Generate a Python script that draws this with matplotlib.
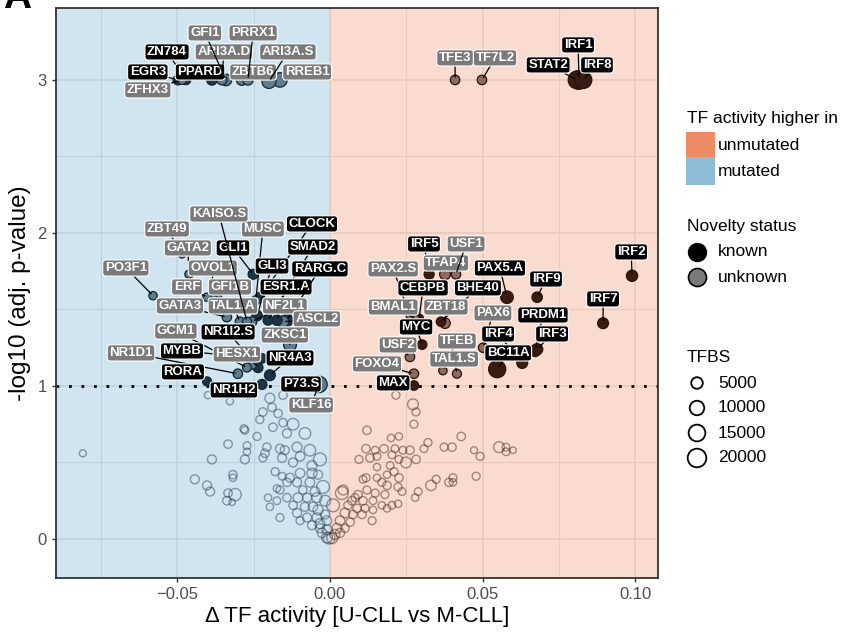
import numpy as np
import matplotlib
matplotlib.use("Agg")
import matplotlib.pyplot as plt
from matplotlib.patches import Rectangle

plt.rcParams['font.family'] = ['Liberation Sans', 'DejaVu Sans']

# significant TFs: name, delta activity, -log10 adj p, TFBS count, known
sig_names = ['EGR3', 'ZN784', 'ZFHX3', 'PPARD', 'ARI3A.D', 'GFI1', 'ZBTB6', 'PRRX1', 'ARI3A.S', 'RREB1',
             'TFE3', 'TF7L2', 'IRF1', 'STAT2', 'IRF8',
             'ZBT49', 'GATA2', 'PO3F1', 'OVOL1', 'ERF', 'GFI1B', 'GATA3', 'GLI1', 'CLOCK', 'MUSC',
             'GLI3', 'SMAD2', 'ESR1.A', 'RARG.C', 'TAL1.A', 'NF2L1', 'ASCL2', 'ZKSC1', 'KAISO.S',
             'GCM1', 'NR1I2.S', 'MYBB', 'HESX1', 'NR4A3', 'NR1D1', 'RORA', 'NR1H2', 'P73.S', 'KLF16',
             'IRF5', 'TFAP4', 'USF1', 'IRF2', 'PAX5.A', 'IRF9', 'IRF7', 'PAX2.S', 'CEBPB', 'BMAL1',
             'BHE40', 'ZBT18', 'MYC', 'TFEB', 'PAX6', 'PRDM1', 'IRF3', 'IRF4', 'BC11A', 'USF2',
             'TAL1.S', 'FOXO4', 'MAX']
sig_dx = [-0.0498, -0.0472, -0.0485, -0.0387, -0.0354, -0.0341, -0.0289, -0.0269, -0.0200, -0.0164,
          0.0410, 0.0498, 0.0816, 0.0810, 0.0830,
          -0.0485, -0.0462, -0.0580, -0.0387, -0.0403, -0.0370, -0.0338, -0.0252, -0.0230, -0.0243,
          -0.0239, -0.0203, -0.0174, -0.0141, -0.0295, -0.0256, -0.0154, -0.0131, -0.0272,
          -0.0272, -0.0236, -0.0223, -0.0256, -0.0197, -0.0302, -0.0403, -0.0223, -0.0066, -0.0036,
          0.0325, 0.0377, 0.0413, 0.0990, 0.0580, 0.0679, 0.0895, 0.0262, 0.0292, 0.0279,
          0.0364, 0.0377, 0.0302, 0.0370, 0.0502, 0.0672, 0.0679, 0.0630, 0.0548, 0.0262,
          0.0416, 0.0275, 0.0275]
sig_p = [3.0, 3.0, 3.0, 3.0, 3.0, 3.0, 3.0, 3.0, 2.99, 3.0,
         3.0, 3.0, 3.0, 3.0, 3.0,
         1.86, 1.73, 1.59, 1.58, 1.58, 1.58, 1.45, 1.73, 1.58, 1.56,
         1.46, 1.43, 1.43, 1.43, 1.42, 1.42, 1.42, 1.27, 1.42,
         1.12, 1.12, 1.18, 1.14, 1.07, 1.08, 1.03, 1.01, 1.01, 1.01,
         1.73, 1.73, 1.73, 1.72, 1.58, 1.58, 1.41, 1.46, 1.44, 1.44,
         1.42, 1.41, 1.27, 1.10, 1.25, 1.23, 1.24, 1.15, 1.11, 1.19,
         1.08, 1.08, 1.003]
sig_tfbs = [3000, 2500, 2000, 3500, 3000, 5000, 4000, 3500, 9000, 10000,
            2500, 2500, 20000, 18000, 16000,
            800, 1500, 1500, 2000, 1500, 2000, 2500, 3000, 2500, 2000,
            3500, 3000, 3500, 6000, 2500, 3000, 5000, 7000, 2000,
            2000, 3000, 2500, 2500, 4000, 2500, 2000, 3000, 4000, 14000,
            3000, 4000, 2500, 4500, 6500, 3500, 4000, 1000, 2000, 1500,
            2500, 3500, 2500, 1500, 2500, 5000, 4500, 4000, 16000, 2500,
            2000, 2500, 2500]
sig_known = [1, 1, 0, 1, 0, 0, 0, 0, 0, 0,
             0, 0, 1, 1, 1,
             0, 0, 0, 0, 0, 0, 0, 1, 1, 0,
             1, 1, 1, 1, 0, 0, 0, 0, 0,
             0, 1, 1, 0, 1, 0, 1, 1, 1, 0,
             1, 0, 0, 1, 1, 1, 1, 0, 1, 0,
             1, 0, 1, 0, 0, 1, 1, 1, 1, 0,
             0, 0, 1]

# non-significant TFs
ns_dx = [-0.0400, -0.0328, -0.0269, -0.0197, -0.0154, -0.0190, -0.0220, -0.0170, -0.0230, -0.0154,
         -0.0121, -0.0187, -0.0279, -0.0239, -0.0141, -0.0082, -0.0334, -0.0272, -0.0207, -0.0164,
         -0.0108, -0.0066, -0.0272, -0.0213, -0.0148, -0.0387, -0.0279, -0.0220, -0.0157, -0.0098,
         -0.0033, -0.0121, -0.0059, -0.0180, -0.0157, -0.0131, -0.0098, -0.0059, -0.0318, -0.0318,
         -0.0443, -0.0403, -0.0393, -0.0141, -0.0108, -0.0066, -0.0174, -0.0164, -0.0334, -0.0311,
         -0.0338, -0.0321, -0.0141, -0.0105, -0.0075, -0.0043, -0.0203, -0.0174, -0.0197, -0.0121,
         -0.0082, -0.0056, -0.0164, -0.0108, -0.0075, -0.0043, -0.0033, -0.0059, -0.0010, -0.0026,
         -0.0010, -0.0023, -0.0039, -0.0810, -0.0282, -0.0016, -0.0039, -0.0016, -0.0049, -0.0089,
         -0.0010, -0.0033, -0.0003, -0.0098,
         0.0216, 0.0272, 0.0282, 0.0275, 0.0121, 0.0226, 0.0200, 0.0321, 0.0430, 0.0308,
         0.0374, 0.0400, 0.0472, 0.0492, 0.0554, 0.0577, 0.0577, 0.0600, 0.0118, 0.0148,
         0.0177, 0.0213, 0.0239, 0.0262, 0.0203, 0.0226, 0.0249, 0.0282, 0.0095, 0.0131,
         0.0154, 0.0154, 0.0197, 0.0210, 0.0187, 0.0226, 0.0154, 0.0118, 0.0170, 0.0187,
         0.0223, 0.0236, 0.0479, 0.0403, 0.0403, 0.0390, 0.0348, 0.0331, 0.0289, 0.0279,
         0.0108, 0.0039, 0.0092, 0.0121, 0.0148, 0.0180, 0.0072, 0.0108, 0.0141, 0.0170,
         0.0203, 0.0223, 0.0187, 0.0089, 0.0115, 0.0141, 0.0049, 0.0075, 0.0105, 0.0138,
         0.0033, 0.0066, 0.0023, 0.0049, 0.0016, 0.0033, 0.0010, 0.0043, 0.0007, 0.0059,
         0.0082]
ns_p = [0.94, 0.90, 0.94, 0.92, 0.94, 0.86, 0.83, 0.82, 0.78, 0.76,
        0.75, 0.73, 0.71, 0.67, 0.69, 0.69, 0.62, 0.61, 0.60, 0.59,
        0.60, 0.58, 0.57, 0.56, 0.58, 0.52, 0.52, 0.53, 0.53, 0.54,
        0.52, 0.50, 0.48, 0.44, 0.41, 0.40, 0.43, 0.43, 0.42, 0.40,
        0.39, 0.35, 0.31, 0.37, 0.37, 0.37, 0.33, 0.32, 0.30, 0.29,
        0.25, 0.24, 0.27, 0.27, 0.27, 0.27, 0.27, 0.25, 0.21, 0.22,
        0.21, 0.21, 0.14, 0.17, 0.14, 0.14, 0.10, 0.09, 0.06, 0.04,
        0.01, 0.34, 0.42, 0.56, 0.72, 0.25, 0.19, 0.16, 0.31, 0.32,
        0.12, 0.07, 0.005, 0.12,
        0.94, 0.88, 0.83, 0.75, 0.71, 0.67, 0.66, 0.63, 0.67, 0.59,
        0.60, 0.60, 0.58, 0.54, 0.60, 0.60, 0.57, 0.58, 0.59, 0.58,
        0.59, 0.59, 0.58, 0.58, 0.55, 0.52, 0.50, 0.52, 0.52, 0.53,
        0.54, 0.47, 0.48, 0.44, 0.42, 0.40, 0.40, 0.40, 0.37, 0.35,
        0.34, 0.31, 0.41, 0.40, 0.37, 0.37, 0.39, 0.35, 0.31, 0.27,
        0.39, 0.30, 0.29, 0.32, 0.30, 0.29, 0.25, 0.25, 0.25, 0.22,
        0.22, 0.23, 0.20, 0.20, 0.20, 0.19, 0.17, 0.16, 0.16, 0.12,
        0.12, 0.11, 0.07, 0.07, 0.03, 0.04, 0.22, 0.32, 0.005, 0.22,
        0.27]
ns_tfbs = [700, 700, 700, 3000, 1500, 1500, 1500, 1500, 1200, 1500,
           5000, 1500, 1000, 1200, 2000, 5000, 1500, 1000, 1500, 2000,
           3000, 5000, 800, 1500, 2000, 2000, 2000, 1200, 2000, 2500,
           7000, 2000, 3000, 1200, 1000, 2000, 2500, 3000, 1500, 800,
           2000, 2000, 2000, 1500, 2000, 2500, 800, 1200, 1500, 6000,
           1500, 400, 1500, 2500, 2000, 3000, 800, 1000, 800, 1500,
           2000, 2500, 1200, 2000, 2000, 2500, 3000, 2000, 3000, 2500,
           4000, 7000, 2000, 600, 1200, 4000, 3000, 2000, 2500, 1500,
           2500, 2000, 5000, 1200,
           1200, 4000, 1200, 1200, 1500, 800, 800, 1200, 1500, 1000,
           1200, 1500, 600, 1200, 4000, 1000, 1000, 400, 1500, 1000,
           1500, 1000, 1000, 1500, 1000, 1000, 4000, 1500, 1200, 1500,
           1000, 800, 1000, 1200, 800, 1500, 800, 1200, 1200, 1500,
           1200, 1000, 1200, 1200, 800, 1500, 1200, 3500, 1000, 800,
           1000, 7000, 1500, 1200, 1200, 1200, 1500, 1500, 1000, 800,
           1000, 800, 800, 1500, 1200, 800, 2500, 1500, 1500, 1200,
           2500, 1500, 3000, 1500, 3000, 2000, 7000, 3000, 4000, 1500,
           1200]

# where each label box sits (data coordinates)
label_pos = {
    'GFI1': (-0.0410, 3.307), 'PRRX1': (-0.0252, 3.307), 'ZN784': (-0.0534, 3.183),
    'ARI3A.D': (-0.0348, 3.183), 'ARI3A.S': (-0.0138, 3.183), 'EGR3': (-0.0597, 3.052),
    'PPARD': (-0.0426, 3.052), 'ZBTB6': (-0.0252, 3.052), 'RREB1': (-0.0075, 3.052),
    'ZFHX3': (-0.0597, 2.935), 'TFE3': (0.0410, 3.144), 'TF7L2': (0.0541, 3.144),
    'IRF1': (0.0813, 3.229), 'STAT2': (0.0715, 3.098), 'IRF8': (0.0875, 3.098),
    'KAISO.S': (-0.0364, 2.124), 'CLOCK': (-0.0059, 2.059), 'ZBT49': (-0.0534, 2.026),
    'MUSC': (-0.0220, 2.026), 'GATA2': (-0.0466, 1.902), 'GLI1': (-0.0318, 1.902),
    'SMAD2': (-0.0056, 1.908), 'PO3F1': (-0.0669, 1.771), 'OVOL1': (-0.0384, 1.771),
    'GLI3': (-0.0190, 1.784), 'RARG.C': (-0.0033, 1.765), 'ERF': (-0.0469, 1.647),
    'GFI1B': (-0.0328, 1.647), 'ESR1.A': (-0.0144, 1.647), 'GATA3': (-0.0492, 1.523),
    'TAL1.A': (-0.0318, 1.523), 'NF2L1': (-0.0148, 1.523), 'ASCL2': (-0.0043, 1.438),
    'GCM1': (-0.0505, 1.359), 'NR1I2.S': (-0.0334, 1.353), 'ZKSC1': (-0.0148, 1.333),
    'NR1D1': (-0.0652, 1.216), 'MYBB': (-0.0485, 1.229), 'HESX1': (-0.0305, 1.209),
    'NR4A3': (-0.0131, 1.183), 'RORA': (-0.0482, 1.092), 'NR1H2': (-0.0315, 0.974),
    'P73.S': (-0.0095, 1.013), 'KLF16': (-0.0062, 0.876),
    'IRF5': (0.0308, 1.928), 'USF1': (0.0446, 1.928), 'IRF2': (0.0987, 1.876),
    'PAX2.S': (0.0207, 1.765), 'TFAP4': (0.0380, 1.804), 'PAX5.A': (0.0557, 1.771),
    'IRF9': (0.0708, 1.699), 'CEBPB': (0.0305, 1.641), 'BHE40': (0.0485, 1.641),
    'IRF7': (0.0895, 1.569), 'BMAL1': (0.0207, 1.516), 'ZBT18': (0.0380, 1.516),
    'PAX6': (0.0534, 1.477), 'PRDM1': (0.0698, 1.464), 'MYC': (0.0282, 1.386),
    'IRF4': (0.0551, 1.340), 'IRF3': (0.0728, 1.340), 'TFEB': (0.0416, 1.294),
    'USF2': (0.0223, 1.268), 'BC11A': (0.0584, 1.216), 'TAL1.S': (0.0407, 1.176),
    'FOXO4': (0.0154, 1.144), 'MAX': (0.0207, 1.020),
}

BLUE = '#67a9cf'
ORANGE = '#ef8a62'


def tfbs_size(v):
    d_px = 4.5 + 0.1 * np.sqrt(np.asarray(v, dtype=float))
    return (d_px * 0.72) ** 2


fig = plt.figure(figsize=(8.43, 6.4), dpi=100)
ax = fig.add_axes([56 / 843, 62 / 640, 602 / 843, 570 / 640])

ax.set_xlim(-0.0898, 0.1075)
ax.set_ylim(-0.255, 3.47)
ax.axvspan(-0.0898, 0, color=BLUE, alpha=0.3, lw=0, zorder=1)
ax.axvspan(0, 0.1075, color=ORANGE, alpha=0.3, lw=0, zorder=1)

ax.set_xticks([-0.05, 0.0, 0.05, 0.10])
ax.set_xticklabels(['\u22120.05', '0.00', '0.05', '0.10'])
ax.set_xticks([-0.075, -0.025, 0.025, 0.075], minor=True)
ax.set_yticks([0, 1, 2, 3])
ax.set_yticks([0.5, 1.5, 2.5], minor=True)
ax.set_axisbelow(True)
ax.grid(which='major', color='#e6e6e6', lw=1.2)
ax.grid(which='minor', color='#e6e6e6', lw=0.8)
ax.tick_params(which='minor', length=0)
ax.tick_params(which='major', length=3, width=1, color='#333333', labelsize=12, labelcolor='#4d4d4d')
for sp in ax.spines.values():
    sp.set_color('#333333')
    sp.set_linewidth(1.3)

ax.set_xlabel('\u0394 TF activity [U-CLL vs M-CLL]', fontsize=16, labelpad=3)
ax.set_ylabel('-log10 (adj. p-value)', fontsize=17.5, labelpad=5)

# non-significant TFs as open circles
ns_dx = np.array(ns_dx)
ns_p = np.array(ns_p)
ns_edge = np.where(ns_dx < 0, '#1c3445', '#3d1c12')
ax.scatter(ns_dx, ns_p, s=tfbs_size(ns_tfbs), facecolors='none', edgecolors=list(ns_edge),
           linewidths=1.0, alpha=0.45, zorder=2)

ax.axhline(1, color='black', lw=2, ls=(0, (1, 3.5)), zorder=2.5)

# significant TFs, filled by novelty status
sig_dx = np.array(sig_dx)
sig_p = np.array(sig_p)
sig_known = np.array(sig_known, dtype=bool)
fill = []
for dx, kn in zip(sig_dx, sig_known):
    if dx < 0:
        fill.append('#1c3445' if kn else '#5f7b8c')
    else:
        fill.append('#3b1b12' if kn else '#8e6a5e')
edge = np.where(sig_dx < 0, '#142633', '#2a130c')
order = np.argsort(-np.array(sig_tfbs))
ax.scatter(sig_dx[order], sig_p[order], s=tfbs_size(np.array(sig_tfbs)[order]),
           c=[fill[i] for i in order], edgecolors=[edge[i] for i in order],
           linewidths=0.9, zorder=3)

for name, dx, p, kn in zip(sig_names, sig_dx, sig_p, sig_known):
    lx, ly = label_pos[name]
    ax.annotate(name, xy=(dx, p), xytext=(lx, ly), textcoords='data',
                ha='center', va='center', fontsize=9.5, fontweight='bold', color='white',
                bbox=dict(boxstyle='round,pad=0.16,rounding_size=0.25',
                          fc='black' if kn else '#7a7a7a', ec='white', lw=0.8),
                arrowprops=dict(arrowstyle='-', color='black', lw=0.9, shrinkA=0, shrinkB=2),
                zorder=5)

# panel letter
fig.text(0.004, 1 - 8 / 640, 'A', fontsize=28, fontweight='bold', va='baseline', ha='left')

# legends, laid out in pixel space on the right
lax = fig.add_axes([0, 0, 1, 1])
lax.set_xlim(0, 843)
lax.set_ylim(640, 0)
lax.axis('off')

fs = 12.5
lax.text(687, 119, 'TF activity higher in', fontsize=fs, va='center', ha='left')
lax.add_patch(Rectangle((686, 132), 29, 25, color='#ee8b65', lw=0))
lax.add_patch(Rectangle((686, 157), 29, 28, color='#8ebbd6', lw=0))
lax.text(718, 146, 'unmutated', fontsize=fs, va='center')
lax.text(718, 172, 'mutated', fontsize=fs, va='center')

lax.text(687, 226, 'Novelty status', fontsize=fs, va='center', ha='left')
lax.scatter([697], [252], s=(18 * 0.72) ** 2, c='black', edgecolors='black', lw=1)
lax.scatter([697], [277], s=(18 * 0.72) ** 2, c='#7a7a7a', edgecolors='black', lw=1.2)
lax.text(718, 252, 'known', fontsize=fs, va='center')
lax.text(718, 277, 'unknown', fontsize=fs, va='center')

lax.text(687, 357, 'TFBS', fontsize=fs, va='center', ha='left')
for val, yy in zip([5000, 10000, 15000, 20000], [383, 408, 433, 458]):
    lax.scatter([697], [yy], s=tfbs_size(val), facecolors='none', edgecolors='black', lw=1.3)
    lax.text(718, yy, str(val), fontsize=fs, va='center')

fig.savefig('out.png', dpi=100)
